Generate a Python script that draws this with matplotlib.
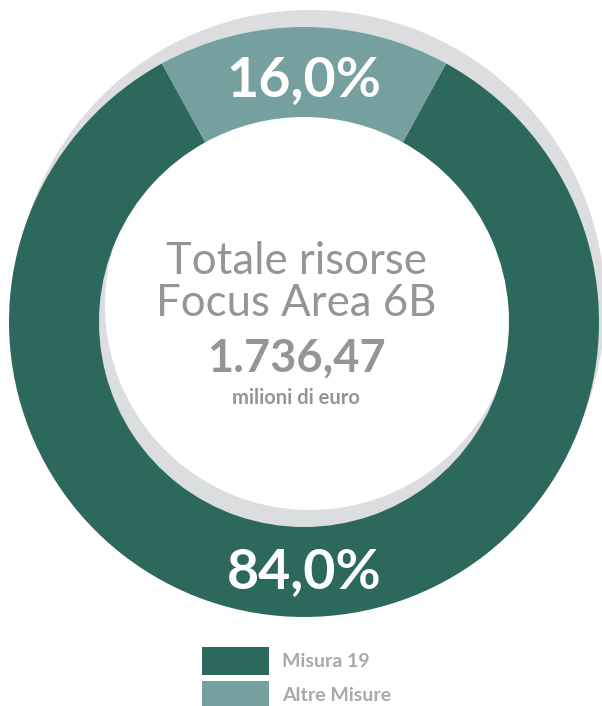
import numpy as np
import matplotlib
matplotlib.use("Agg")
import matplotlib.pyplot as plt

plt.rcParams['font.family'] = ['Lato', 'DejaVu Sans']

# ----------DATA----------
labels = ['Misura 19', 'Altre Misure']
shares = [84.0, 16.0]
colors = ['#2d685c', '#76a09f']
pct_labels = ['84,0%', '16,0%']
title_lines = ['Totale risorse', 'Focus Area 6B']
total_value = '1.736,47'
total_unit = 'milioni di euro'

W, H = 602, 706
fig = plt.figure(figsize=(W / 100, H / 100), dpi=100)
ax = fig.add_axes([0, 0, 1, 1])

cx, cy = 304, H - 322
r_out, ring = 295, 90

# grey shadow ring, shifted up-right
ax.pie([1], colors=['#dcdddf'], radius=r_out, center=(cx + 6, cy + 17),
       wedgeprops=dict(width=ring, linewidth=0), frame=True)

start = 90 + 180 * shares[1] / 100
wedges, _ = ax.pie(shares, colors=colors, radius=r_out, center=(cx, cy),
                   startangle=start, counterclock=True,
                   wedgeprops=dict(width=ring, linewidth=0), frame=True)

ax.set_xlim(0, W)
ax.set_ylim(0, H)
ax.set_aspect('equal')
ax.axis('off')

# percentage labels in the middle of each wedge
r_mid = r_out - ring / 2 - 4
for w, txt in zip(wedges, pct_labels):
    ang = np.deg2rad((w.theta1 + w.theta2) / 2)
    ax.text(cx + r_mid * np.cos(ang), cy + r_mid * np.sin(ang) - 4, txt,
            ha='center', va='center', color='white', fontsize=40,
            fontweight='bold')

grey = '#939598'
tx = cx - 8
ax.text(tx, H - 262, title_lines[0], ha='center', va='center',
        color=grey, fontsize=31.5, fontweight='normal')
ax.text(tx, H - 304, title_lines[1], ha='center', va='center',
        color=grey, fontsize=31.5, fontweight='normal')
ax.text(tx, H - 358, total_value, ha='center', va='center',
        color=grey, fontsize=32.5, fontweight='bold')
ax.text(tx, H - 398, total_unit, ha='center', va='center',
        color=grey, fontsize=14.5, fontweight='bold')

leg = ax.legend(wedges, labels, loc='upper left',
                bbox_to_anchor=(202 / W, 1 - 647 / H),
                bbox_transform=fig.transFigure, frameon=False,
                fontsize=14, handlelength=3.45, handleheight=1.85,
                handletextpad=0.65, labelspacing=0.3, borderpad=0,
                borderaxespad=0)
for t in leg.get_texts():
    t.set_color('#a7a9ac')
    t.set_fontweight('bold')

fig.savefig('out.png', dpi=100)
